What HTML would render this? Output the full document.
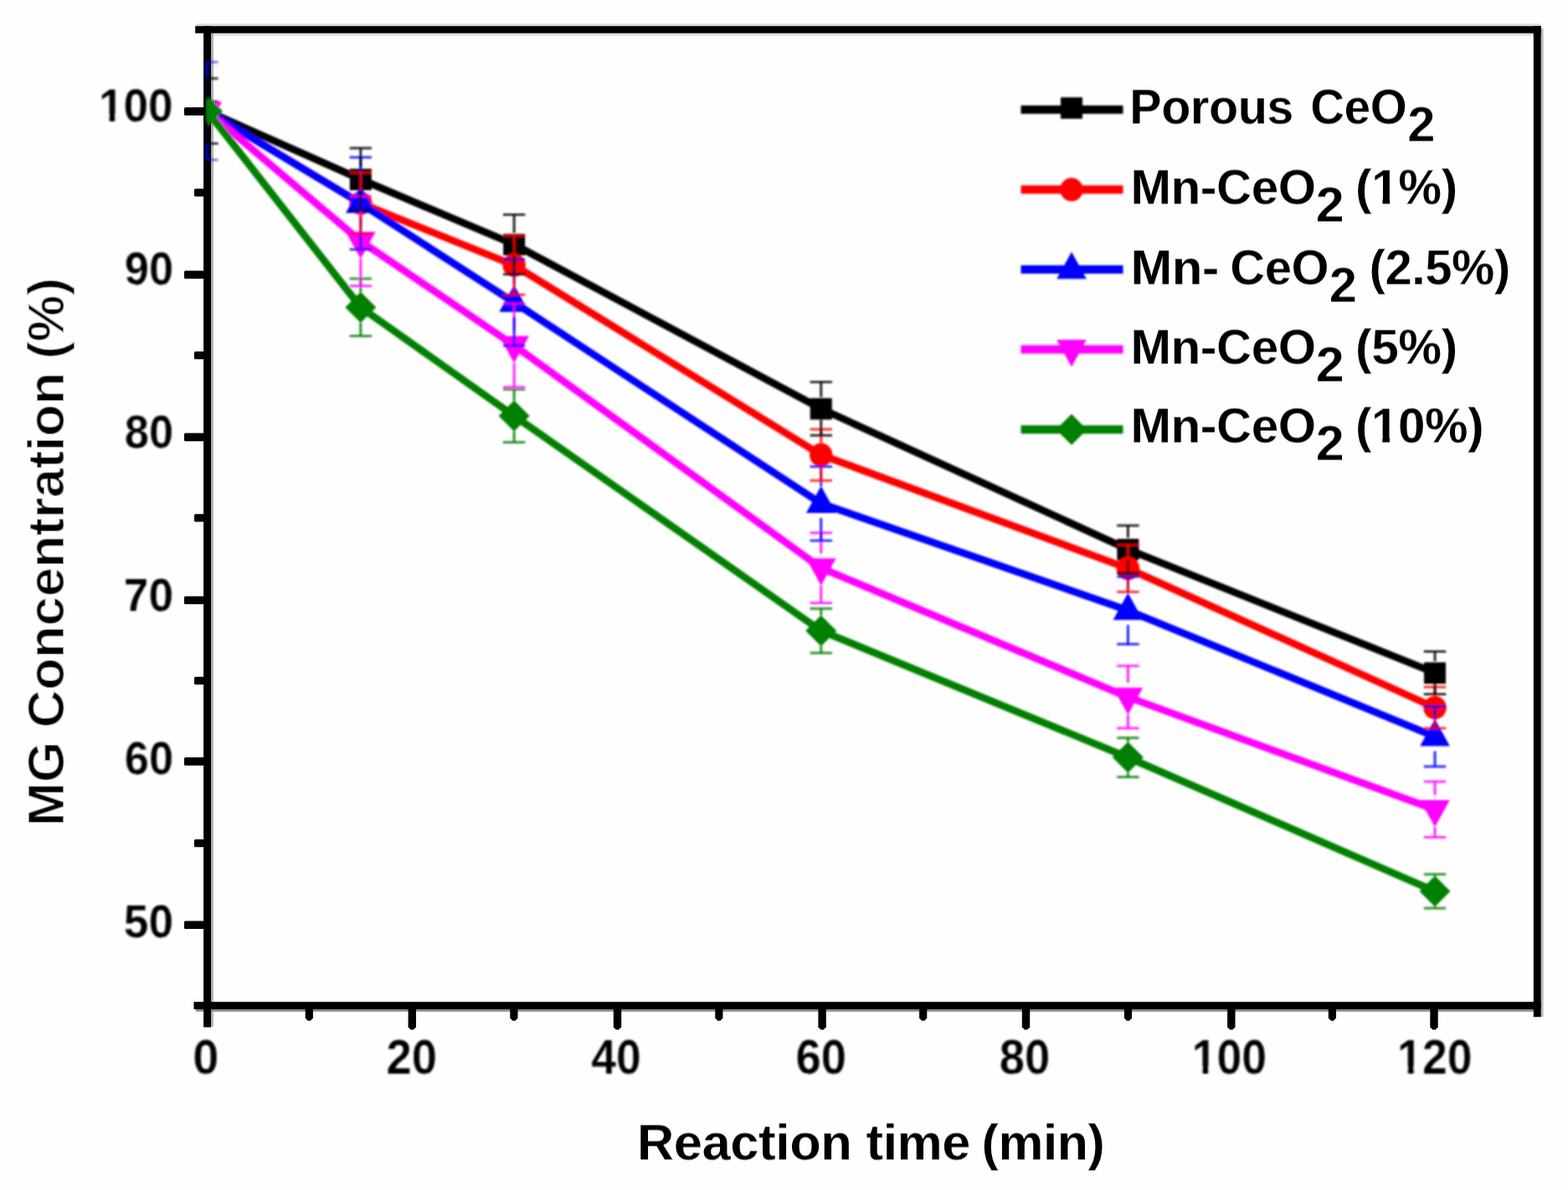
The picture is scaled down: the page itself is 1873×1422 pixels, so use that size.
<!DOCTYPE html>
<html lang="en"><head><meta charset="utf-8">
<title>MG Concentration vs Reaction time</title>
<style>
html,body{margin:0;padding:0;background:#fefefe;}
body{width:1873px;height:1422px;}
svg{display:block;font-family:"Liberation Sans", sans-serif;font-weight:bold;}
text{fill:#000;stroke-linejoin:round;}
#ticklabels text{stroke:#fefefe;stroke-width:0.12px;}
</style></head><body>
<svg width="1873" height="1422" viewBox="0 0 1873 1422" role="img" aria-label="MG concentration versus reaction time">
<rect x="0" y="0" width="1873" height="1422" fill="#fefefe"/>
<defs><clipPath id="plotclip"><rect x="246" y="36" width="1590" height="1166"/></clipPath>
<filter id="soft" x="0" y="0" width="1873" height="1422" filterUnits="userSpaceOnUse"><feGaussianBlur stdDeviation="1.0"/></filter>
<filter id="softt" x="0" y="0" width="1873" height="1422" filterUnits="userSpaceOnUse"><feGaussianBlur stdDeviation="0.9"/></filter>
<filter id="txh" x="0" y="0" width="1873" height="1422" filterUnits="userSpaceOnUse"><feMorphology operator="erode" radius="0 1" result="e"/><feComposite in="SourceGraphic" in2="e" operator="arithmetic" k1="0" k2="0.5" k3="0.5" k4="0"/><feGaussianBlur stdDeviation="0.75"/></filter>
<filter id="txv" x="0" y="0" width="1873" height="1422" filterUnits="userSpaceOnUse"><feMorphology operator="erode" radius="1 1" result="e"/><feComposite in="SourceGraphic" in2="e" operator="arithmetic" k1="0" k2="0.4" k3="0.6" k4="0"/><feGaussianBlur stdDeviation="0.75"/></filter>
</defs>
<g id="frame-halo">
<rect x="234" y="28.3" width="1606.7" height="3" fill="#d9d9d9"/>
<rect x="252" y="39.6" width="1580" height="3" fill="#dcdcdc"/>
<rect x="252.1" y="39.6" width="3" height="1187" fill="#b4b4b4"/>
<rect x="1840.6" y="34" width="3" height="1181" fill="#b9b9b9"/>
<rect x="234" y="1206" width="1598" height="2.9" fill="#929292"/>
</g>
<g id="frame" fill="#000">
<rect x="243.1" y="31.2" width="9" height="1196.3"/>
<rect x="1831.8" y="31.2" width="8.9" height="1184"/>
<rect x="233.2" y="31.2" width="1607.5" height="8.5"/>
<rect x="231.5" y="1197.2" width="1609.2" height="8.9"/>
</g>
<g id="ticks" fill="#000">
<rect x="220" y="1100.4" width="24" height="9.6" rx="1.5"/>
<rect x="232" y="1003.05" width="12" height="9.2" rx="1.5"/>
<rect x="220" y="905.1" width="24" height="9.6" rx="1.5"/>
<rect x="232" y="808.68" width="12" height="9.2" rx="1.5"/>
<rect x="220" y="712.4" width="24" height="9.6" rx="1.5"/>
<rect x="232" y="614.31" width="12" height="9.2" rx="1.5"/>
<rect x="220" y="517.6" width="24" height="9.6" rx="1.5"/>
<rect x="232" y="419.94" width="12" height="9.2" rx="1.5"/>
<rect x="220" y="323.4" width="24" height="9.6" rx="1.5"/>
<rect x="232" y="225.57" width="12" height="9.2" rx="1.5"/>
<rect x="220" y="128.3" width="24" height="9.6" rx="1.5"/>
<path d="M364.7 1205H373.9V1216.6L370.9 1219.8H367.7L364.7 1216.6Z"/>
<path d="M487.6 1205H497V1227.3L493.9 1230.4H490.7L487.6 1227.3Z"/>
<path d="M609.3 1205H618.5V1216.6L615.5 1219.8H612.3L609.3 1216.6Z"/>
<path d="M732.8 1205H742.2V1227.3L739.1 1230.4H735.9L732.8 1227.3Z"/>
<path d="M854.25 1205H863.45V1216.6L860.45 1219.8H857.25L854.25 1216.6Z"/>
<path d="M977.4 1205H986.8V1227.3L983.7 1230.4H980.5L977.4 1227.3Z"/>
<path d="M1098.1 1205H1107.3V1216.6L1104.3 1219.8H1101.1L1098.1 1216.6Z"/>
<path d="M1220.8 1205H1230.2V1227.3L1227.1 1230.4H1223.9L1220.8 1227.3Z"/>
<path d="M1342.9 1205H1352.1V1216.6L1349.1 1219.8H1345.9L1342.9 1216.6Z"/>
<path d="M1466.1 1205H1475.5V1227.3L1472.4 1230.4H1469.2L1466.1 1227.3Z"/>
<path d="M1586.8 1205H1596V1216.6L1593 1219.8H1589.8L1586.8 1216.6Z"/>
<path d="M1708.3 1205H1717.7V1227.3L1714.6 1230.4H1711.4L1708.3 1227.3Z"/>
</g>
<g id="ticklabels" filter="url(#softt)">
<text x="117.89" y="144.5" font-size="54.8" textLength="88.7" lengthAdjust="spacingAndGlyphs">100</text>
<text x="148.74" y="340.1" font-size="54.8" textLength="58.33" lengthAdjust="spacingAndGlyphs">90</text>
<text x="148.74" y="535.1" font-size="54.8" textLength="58.33" lengthAdjust="spacingAndGlyphs">80</text>
<text x="147.75" y="730.1" font-size="54.8" textLength="59.35" lengthAdjust="spacingAndGlyphs">70</text>
<text x="148.74" y="925.4" font-size="54.8" textLength="58.33" lengthAdjust="spacingAndGlyphs">60</text>
<text x="147.75" y="1120.4" font-size="54.8" textLength="59.35" lengthAdjust="spacingAndGlyphs">50</text>
<text x="230.3" y="1282.8" font-size="57.5" textLength="31.18" lengthAdjust="spacingAndGlyphs">0</text>
<text x="461.6" y="1282.8" font-size="57.5" textLength="60.51" lengthAdjust="spacingAndGlyphs">20</text>
<text x="706.15" y="1282.8" font-size="57.5" textLength="59.53" lengthAdjust="spacingAndGlyphs">40</text>
<text x="950.5" y="1282.8" font-size="57.5" textLength="60.51" lengthAdjust="spacingAndGlyphs">60</text>
<text x="1193.7" y="1282.8" font-size="57.5" textLength="60.51" lengthAdjust="spacingAndGlyphs">80</text>
<text x="1423.7" y="1282.8" font-size="57.5" textLength="89.4" lengthAdjust="spacingAndGlyphs">100</text>
<text x="1669.1" y="1282.8" font-size="57.5" textLength="89.4" lengthAdjust="spacingAndGlyphs">120</text>
<rect x="119.75" y="137.38" width="10.21" height="8.52" fill="#fefefe"/>
<rect x="137.93" y="137.38" width="9.52" height="8.52" fill="#fefefe"/>
<rect x="1425.58" y="1275.39" width="10.29" height="8.81" fill="#fefefe"/>
<rect x="1443.9" y="1275.39" width="9.59" height="8.81" fill="#fefefe"/>
<rect x="1670.98" y="1275.39" width="10.29" height="8.81" fill="#fefefe"/>
<rect x="1689.3" y="1275.39" width="9.59" height="8.81" fill="#fefefe"/>
</g>
<g id="titles">
<g filter="url(#txh)">
<text font-size="61"><tspan x="761.22" y="1386" textLength="256.39" lengthAdjust="spacingAndGlyphs">Reaction</tspan> <tspan x="1034.8" y="1386" textLength="124.21" lengthAdjust="spacingAndGlyphs">time</tspan> <tspan x="1172.85" y="1386" textLength="146.78" lengthAdjust="spacingAndGlyphs">(min)</tspan></text>
</g>
<g filter="url(#txv)">
<text font-size="62" transform="translate(76 1000) rotate(-90)"><tspan x="12.75" textLength="101.18" lengthAdjust="spacingAndGlyphs">MG</tspan> <tspan x="130.27" textLength="424.71" lengthAdjust="spacingAndGlyphs">Concentration</tspan> <tspan x="571.08" textLength="97.06" lengthAdjust="spacingAndGlyphs">(%)</tspan></text>
</g>
</g>
<g filter="url(#soft)">
<g id="data" clip-path="url(#plotclip)">
<polyline points="247.5,132.69 430.81,214.32 614.13,292.07 980.76,488.38 1347.39,656.51 1714.02,804.04" fill="none" stroke="#000000" stroke-width="8.7" stroke-linejoin="round" stroke-linecap="butt"/>
<rect x="234.5" y="120.09" width="26" height="25.6" fill="#000000"/>
<rect x="417.81" y="201.72" width="26" height="25.6" fill="#000000"/>
<rect x="601.13" y="279.47" width="26" height="25.6" fill="#000000"/>
<rect x="967.76" y="475.78" width="26" height="25.6" fill="#000000"/>
<rect x="1334.39" y="643.91" width="26" height="25.6" fill="#000000"/>
<rect x="1701.02" y="791.44" width="26" height="25.6" fill="#000000"/>
<polyline points="247.5,132.69 430.81,242.89 614.13,316.95 980.76,543.58 1347.39,679.25 1714.02,845.63" fill="none" stroke="#ff0000" stroke-width="8.7" stroke-linejoin="round" stroke-linecap="butt"/>
<ellipse cx="247.5" cy="132.69" rx="13.7" ry="14" fill="#ff0000"/>
<ellipse cx="430.81" cy="242.89" rx="13.7" ry="14" fill="#ff0000"/>
<ellipse cx="614.13" cy="316.95" rx="13.7" ry="14" fill="#ff0000"/>
<ellipse cx="980.76" cy="543.58" rx="13.7" ry="14" fill="#ff0000"/>
<ellipse cx="1347.39" cy="679.25" rx="13.7" ry="14" fill="#ff0000"/>
<ellipse cx="1714.02" cy="845.63" rx="13.7" ry="14" fill="#ff0000"/>
<polyline points="247.5,132.69 430.81,243.09 614.13,361.46 980.76,601.7 1347.39,729.4 1714.02,880.23" fill="none" stroke="#0000ff" stroke-width="8.7" stroke-linejoin="round" stroke-linecap="butt"/>
<polygon points="247.5,111.69 265.3,143.99 229.7,143.99" fill="#0000ff"/>
<polygon points="430.81,222.09 448.62,254.39 413.01,254.39" fill="#0000ff"/>
<polygon points="614.13,340.46 631.93,372.76 596.33,372.76" fill="#0000ff"/>
<polygon points="980.76,580.7 998.56,613 962.96,613" fill="#0000ff"/>
<polygon points="1347.39,708.4 1365.19,740.7 1329.59,740.7" fill="#0000ff"/>
<polygon points="1714.02,859.23 1731.82,891.53 1696.22,891.53" fill="#0000ff"/>
<polyline points="247.5,132.69 430.81,288.18 614.13,412.77 980.76,678.67 1347.39,833 1714.02,967.31" fill="none" stroke="#ff00ff" stroke-width="8.7" stroke-linejoin="round" stroke-linecap="butt"/>
<polygon points="247.5,153.69 265.3,121.39 229.7,121.39" fill="#ff00ff"/>
<polygon points="430.81,309.18 448.62,276.88 413.01,276.88" fill="#ff00ff"/>
<polygon points="614.13,433.77 631.93,401.47 596.33,401.47" fill="#ff00ff"/>
<polygon points="980.76,699.67 998.56,667.37 962.96,667.37" fill="#ff00ff"/>
<polygon points="1347.39,854 1365.19,821.7 1329.59,821.7" fill="#ff00ff"/>
<polygon points="1714.02,988.31 1731.82,956.01 1696.22,956.01" fill="#ff00ff"/>
<polyline points="247.5,132.69 430.81,367.29 614.13,496.93 980.76,753.7 1347.39,905.11 1714.02,1065.08" fill="none" stroke="#008000" stroke-width="8.7" stroke-linejoin="round" stroke-linecap="butt"/>
<polygon points="247.5,114.19 266,132.69 247.5,151.19 229,132.69" fill="#008000"/>
<polygon points="430.81,348.79 449.31,367.29 430.81,385.79 412.31,367.29" fill="#008000"/>
<polygon points="614.13,478.43 632.63,496.93 614.13,515.43 595.63,496.93" fill="#008000"/>
<polygon points="980.76,735.2 999.26,753.7 980.76,772.2 962.26,753.7" fill="#008000"/>
<polygon points="1347.39,886.61 1365.89,905.11 1347.39,923.61 1328.89,905.11" fill="#008000"/>
<polygon points="1714.02,1046.58 1732.52,1065.08 1714.02,1083.58 1695.52,1065.08" fill="#008000"/>
<g stroke="#008000" fill="none" stroke-opacity="0.85">
<path d="M430.81 333.11V348.99M430.81 385.59V401.47M614.13 465.35V478.63M614.13 515.23V528.52M980.76 727.24V735.4M980.76 772V780.15M1347.39 881.69V886.81M1347.39 923.41V928.54M1714.02 1044.85V1046.78M1714.02 1083.38V1085.3" stroke-width="3.0"/>
<path d="M417.62 333.11H444.01M417.62 401.47H444.01M600.93 465.35H627.33M600.93 528.52H627.33M967.56 727.24H993.96M967.56 780.15H993.96M1334.19 881.69H1360.59M1334.19 928.54H1360.59M1700.82 1044.85H1727.22M1700.82 1085.3H1727.22" stroke-width="3.0" stroke-opacity="0.8"/>
</g>
<g stroke="#ff00ff" fill="none" stroke-opacity="0.85">
<path d="M430.81 234.53V270.88M430.81 309.18V341.83M614.13 362.86V395.47M614.13 433.77V462.68M980.76 636.74V661.37M980.76 699.67V720.6M1347.39 795.7V815.7M1347.39 854V870.3M1714.02 934.04V950.01M1714.02 988.31V1000.58" stroke-width="3.0"/>
<path d="M417.62 234.53H444.01M417.62 341.83H444.01M600.93 362.86H627.33M600.93 462.68H627.33M967.56 636.74H993.96M967.56 720.6H993.96M1334.19 795.7H1360.59M1334.19 870.3H1360.59M1700.82 934.04H1727.22M1700.82 1000.58H1727.22" stroke-width="3.0" stroke-opacity="0.8"/>
</g>
<g stroke="#0000ff" fill="none" stroke-opacity="0.85">
<path d="M247.5 74.37V111.69M247.5 149.99V191M430.81 188.09V222.09M430.81 260.39V298.09M614.13 310.01V340.46M614.13 378.76V412.91M980.76 557.46V580.7M980.76 619V645.94M1347.39 688.99V708.4M1347.39 746.7V769.81M1714.02 844.35V859.23M1714.02 897.53V916.12" stroke-width="3.0"/>
<path d="M417.62 188.09H444.01M417.62 298.09H444.01M600.93 310.01H627.33M600.93 412.91H627.33M967.56 557.46H993.96M967.56 645.94H993.96M1334.19 688.99H1360.59M1334.19 769.81H1360.59M1700.82 844.35H1727.22M1700.82 916.12H1727.22" stroke-width="3.0" stroke-opacity="0.8"/>
<path d="M234.3 74.37H260.7M234.3 191H260.7" stroke-width="3.0" stroke-opacity="0.5"/>
</g>
<g stroke="#ff0000" fill="none" stroke-opacity="0.85">
<path d="M430.81 206.22V228.89M430.81 256.89V279.56M614.13 281.76V302.95M614.13 330.95V352.14M980.76 512.93V529.58M980.76 557.58V574.24M1347.39 651.31V665.25M1347.39 693.25V707.2M1714.02 821.02V831.63M1714.02 859.63V870.25" stroke-width="3.0"/>
<path d="M417.62 206.22H444.01M417.62 279.56H444.01M600.93 281.76H627.33M600.93 352.14H627.33M967.56 512.93H993.96M967.56 574.24H993.96M1334.19 651.31H1360.59M1334.19 707.2H1360.59M1700.82 821.02H1727.22M1700.82 870.25H1727.22" stroke-width="3.0" stroke-opacity="0.8"/>
</g>
<g stroke="#000000" fill="none" stroke-opacity="0.85">
<path d="M247.5 93.81V118.69M247.5 145.69V171.56M430.81 177.08V200.32M430.81 227.32V251.56M614.13 256.38V278.07M614.13 305.07V327.75M980.76 456.62V474.38M980.76 501.38V520.14M1347.39 628.11V642.51M1347.39 669.51V684.91M1714.02 778.59V790.04M1714.02 817.04V829.49" stroke-width="3.0"/>
<path d="M417.62 177.08H444.01M417.62 251.56H444.01M600.93 256.38H627.33M600.93 327.75H627.33M967.56 456.62H993.96M967.56 520.14H993.96M1334.19 628.11H1360.59M1334.19 684.91H1360.59M1700.82 778.59H1727.22M1700.82 829.49H1727.22" stroke-width="3.0" stroke-opacity="0.8"/>
<path d="M234.3 93.81H260.7M234.3 171.56H260.7" stroke-width="3.0" stroke-opacity="0.75"/>
</g>
</g>
</g>
<g id="legend">
<g filter="url(#soft)">
<path d="M1219.5 130.9H1341.5" stroke="#000000" stroke-width="10.0" fill="none"/>
<rect x="1267" y="116.3" width="26" height="25.6" fill="#000000"/>
<path d="M1219.5 226.6H1341.5" stroke="#ff0000" stroke-width="10.0" fill="none"/>
<ellipse cx="1280" cy="226.6" rx="13.7" ry="14" fill="#ff0000"/>
<path d="M1219.5 322H1341.5" stroke="#0000ff" stroke-width="10.0" fill="none"/>
<polygon points="1280,301 1297.8,333.3 1262.2,333.3" fill="#0000ff"/>
<path d="M1219.5 417.4H1341.5" stroke="#ff00ff" stroke-width="10.0" fill="none"/>
<polygon points="1280,438.4 1297.8,406.1 1262.2,406.1" fill="#ff00ff"/>
<path d="M1219.5 513.3H1341.5" stroke="#008000" stroke-width="10.0" fill="none"/>
<polygon points="1280,494.8 1298.5,513.3 1280,531.8 1261.5,513.3" fill="#008000"/>
</g>
<g filter="url(#txh)">
<text font-size="59.3"><tspan x="1349.57" y="148" textLength="195.61" lengthAdjust="spacingAndGlyphs">Porous</tspan> <tspan x="1565.41" y="148" textLength="115.22" lengthAdjust="spacingAndGlyphs">CeO</tspan><tspan x="1681.52" y="168.9" textLength="32.64" lengthAdjust="spacingAndGlyphs">2</tspan></text>
<text font-size="59.3"><tspan x="1350.81" y="244.3" textLength="221.02" lengthAdjust="spacingAndGlyphs">Mn-CeO</tspan><tspan x="1571.97" y="265.2" textLength="33.44" lengthAdjust="spacingAndGlyphs">2</tspan> <tspan x="1619.18" y="244.3" textLength="121.86" lengthAdjust="spacingAndGlyphs">(1%)</tspan></text>
<text font-size="59.3"><tspan x="1350.71" y="340" textLength="105.16" lengthAdjust="spacingAndGlyphs">Mn-</tspan> <tspan x="1469.57" y="340" textLength="117.91" lengthAdjust="spacingAndGlyphs">CeO</tspan><tspan x="1588.02" y="360.9" textLength="32.64" lengthAdjust="spacingAndGlyphs">2</tspan> <tspan x="1635.81" y="340" textLength="168.35" lengthAdjust="spacingAndGlyphs">(2.5%)</tspan></text>
<text font-size="59.3"><tspan x="1350.81" y="434.7" textLength="221.02" lengthAdjust="spacingAndGlyphs">Mn-CeO</tspan><tspan x="1571.97" y="455.6" textLength="33.44" lengthAdjust="spacingAndGlyphs">2</tspan> <tspan x="1619.18" y="434.7" textLength="121.86" lengthAdjust="spacingAndGlyphs">(5%)</tspan></text>
<text font-size="59.3"><tspan x="1350.81" y="529.3" textLength="221.02" lengthAdjust="spacingAndGlyphs">Mn-CeO</tspan><tspan x="1571.97" y="550.2" textLength="33.44" lengthAdjust="spacingAndGlyphs">2</tspan> <tspan x="1619.2" y="529.3" textLength="153.12" lengthAdjust="spacingAndGlyphs">(10%)</tspan></text>
<rect x="1640.42" y="236.7" width="11.08" height="9" fill="#fefefe"/>
<rect x="1660.16" y="236.7" width="10.33" height="9" fill="#fefefe"/>
<rect x="1640.32" y="521.7" width="11.02" height="9" fill="#fefefe"/>
<rect x="1659.95" y="521.7" width="10.27" height="9" fill="#fefefe"/>
</g>
</g>
</svg>
</body></html>
